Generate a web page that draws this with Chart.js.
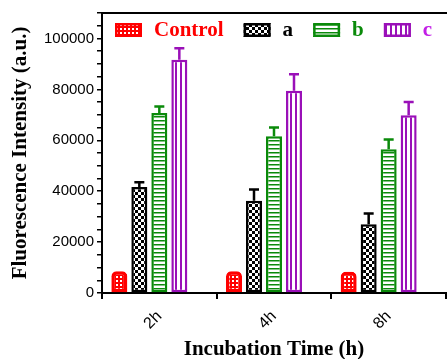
<!DOCTYPE html>
<html>
<head>
<meta charset="utf-8">
<script src="https://cdn.jsdelivr.net/npm/chart.js@4.4.1/dist/chart.umd.min.js"></script>
<style>
    html, body { margin: 0; padding: 0; background: #fff; }
    #wrap { width: 447px; height: 359px; }
</style>
</head>
<body>
<div id="wrap"><canvas id="chart"></canvas></div>
<script>
const categories = ['2h', '4h', '8h'];

const controlValues = [8500, 8500, 8300];
const aValues = [41600, 36200, 27000];
const bValues = [70700, 61600, 56500];
const cValues = [91600, 79500, 69800];

// upward error (SD) for each bar
const controlErr = [0, 0, 0];
const aErr = [1900, 4500, 4200];
const bErr = [2600, 3400, 3800];
const cErr = [4600, 6400, 5200];

const yMax = 110000;

const RED = '#ff0000';
const BLACK = '#000000';
const GREEN = '#0a8a0a';
const PURPLE = '#9a10b8';

const serif = "'Liberation Serif', 'Times New Roman', serif";
const sans = "'Liberation Sans', Arial, sans-serif";

function tile(w, h, paint) {
    const c = document.createElement('canvas');
    c.width = w; c.height = h;
    paint(c.getContext('2d'));
    return document.createElement('canvas').getContext('2d').createPattern(c, 'repeat');
}

const patControl = tile(4, 4, g => {
    g.fillStyle = RED; g.fillRect(0, 0, 4, 4);
    g.fillStyle = '#fff'; g.fillRect(0, 0, 2, 2);
});
const patA = tile(6, 6, g => {
    g.fillStyle = BLACK; g.fillRect(0, 0, 6, 6);
    g.fillStyle = '#fff'; g.fillRect(0, 0, 3, 3); g.fillRect(3, 3, 3, 3);
});
const patB = tile(4, 4, g => {
    g.fillStyle = '#fff'; g.fillRect(0, 0, 4, 4);
    g.fillStyle = GREEN; g.fillRect(0, 0, 4, 1.5);
});
const patC = tile(5, 5, g => {
    g.fillStyle = '#fff'; g.fillRect(0, 0, 5, 5);
    g.fillStyle = PURPLE; g.fillRect(0, 0, 2, 5);
});

const legendItems = [
    { label: 'Control', fill: patControl, border: RED, text: RED },
    { label: 'a', fill: patA, border: BLACK, text: BLACK },
    { label: 'b', fill: patB, border: GREEN, text: GREEN },
    { label: 'c', fill: patC, border: PURPLE, text: '#c21ee6' },
];

const errorBars = {
    id: 'errorBars',
    afterDatasetsDraw(chart) {
        const ctx = chart.ctx;
        const y = chart.scales.y;
        chart.data.datasets.forEach((ds, i) => {
            if (!ds.errors) return;
            chart.getDatasetMeta(i).data.forEach((bar, j) => {
                const e = ds.errors[j];
                if (!e) return;
                const top = y.getPixelForValue(ds.data[j] + e);
                ctx.save();
                ctx.strokeStyle = ds.borderColor;
                ctx.lineWidth = 2.5;
                ctx.beginPath();
                ctx.moveTo(bar.x, bar.y);
                ctx.lineTo(bar.x, top);
                ctx.moveTo(bar.x - 5, top);
                ctx.lineTo(bar.x + 5, top);
                ctx.stroke();
                ctx.restore();
            });
        });
    },
};

const frameAndLegend = {
    id: 'frameAndLegend',
    afterDraw(chart) {
        const ctx = chart.ctx;
        const area = chart.chartArea;
        ctx.save();
        // top frame line
        ctx.strokeStyle = '#000';
        ctx.lineWidth = 2;
        ctx.beginPath();
        ctx.moveTo(area.left, area.top);
        ctx.lineTo(chart.width, area.top);
        ctx.stroke();

        // legend inside the plot
        ctx.font = 'bold 21px ' + serif;
        ctx.textBaseline = 'middle';
        let x = area.left + 13;
        const cy = area.top + 17;
        legendItems.forEach(item => {
            ctx.fillStyle = item.fill;
            ctx.fillRect(x, cy - 7, 27, 14);
            ctx.strokeStyle = item.border;
            ctx.lineWidth = 2.5;
            ctx.strokeRect(x + 1.25, cy - 5.75, 24.5, 11.5);
            x += 27 + 12;
            ctx.fillStyle = item.text;
            ctx.fillText(item.label, x, cy + 1);
            x += ctx.measureText(item.label).width + 20;
        });
        ctx.restore();
    },
};

function barSet(label, data, errors, fill, border, extra) {
    return Object.assign({
        label,
        data,
        errors,
        backgroundColor: fill,
        borderColor: border,
        borderWidth: 2.5,
        borderSkipped: false,
        barPercentage: 0.8,
        categoryPercentage: 0.872,
    }, extra || {});
}

new Chart(document.getElementById('chart'), {
    type: 'bar',
    data: {
        labels: categories,
        datasets: [
            barSet('Control', controlValues, controlErr, patControl, RED, { borderWidth: 3.5, borderRadius: { topLeft: 5, topRight: 5 } }),
            barSet('a', aValues, aErr, patA, BLACK),
            barSet('b', bValues, bErr, patB, GREEN),
            barSet('c', cValues, cErr, patC, PURPLE),
            // empty slot so that the group sits left of the tick like the original
            barSet('', [null, null, null], null, 'rgba(0,0,0,0)', 'rgba(0,0,0,0)'),
        ],
    },
    options: {
        responsive: true,
        maintainAspectRatio: false,
        animation: false,
        layout: { padding: { top: 13, right: 1, left: 0, bottom: 0 } },
        plugins: {
            legend: { display: false },
            tooltip: { enabled: false },
        },
        scales: {
            x: {
                offset: true,
                afterFit: s => { s.height = 66; },
                border: { display: true, color: '#000', width: 2 },
                grid: { display: true, drawOnChartArea: false, drawTicks: true, tickLength: 6, color: '#000', lineWidth: 2 },
                ticks: {
                    color: '#000',
                    font: { family: sans, size: 16 },
                    maxRotation: 45,
                    minRotation: 45,
                    padding: 8,
                },
                title: {
                    display: true,
                    text: 'Incubation Time (h)',
                    color: '#000',
                    font: { family: serif, size: 21, weight: 'bold' },
                    padding: { top: 0, bottom: -3 },
                },
            },
            y: {
                min: 0,
                max: yMax,
                afterFit: s => { s.width = 102; },
                border: { display: true, color: '#000', width: 2 },
                grid: { display: true, drawOnChartArea: false, drawTicks: true, tickLength: 5, color: '#000', lineWidth: 1.5 },
                ticks: {
                    stepSize: 5000,
                    autoSkip: false,
                    color: '#000',
                    font: { family: sans, size: 15 },
                    padding: 3,
                    callback: v => (v % 20000 === 0 ? String(v) : ''),
                },
                title: {
                    display: true,
                    text: 'Fluorescence Intensity (a.u.)',
                    color: '#000',
                    font: { family: serif, size: 21, weight: 'bold' },
                    padding: { top: 8, bottom: 0 },
                },
            },
        },
    },
    plugins: [errorBars, frameAndLegend],
});
</script>
</body>
</html>
